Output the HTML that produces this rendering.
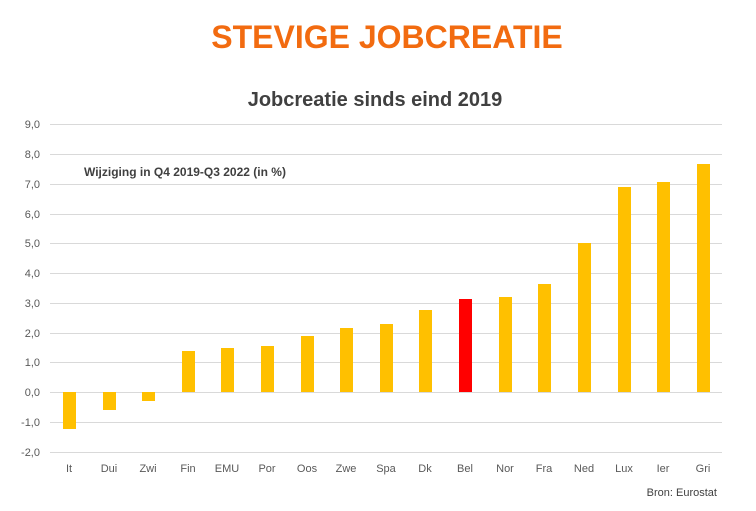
<!DOCTYPE html>
<html><head><meta charset="utf-8"><style>
body{margin:0;background:#fff;width:756px;height:506px;overflow:hidden;font-family:"Liberation Sans",sans-serif}
</style></head><body>
<svg width="756" height="506" xmlns="http://www.w3.org/2000/svg" font-family="Liberation Sans, sans-serif">
<text x="387" y="48" text-anchor="middle" font-size="32" font-weight="bold" fill="#f26b10">STEVIGE JOBCREATIE</text>
<text x="375" y="106" text-anchor="middle" font-size="20" font-weight="bold" fill="#404040">Jobcreatie sinds eind 2019</text>
<g stroke="#d9d9d9" stroke-width="1">
<line x1="50" x2="722" y1="124.5" y2="124.5"/><line x1="50" x2="722" y1="154.5" y2="154.5"/>
<line x1="50" x2="722" y1="184.5" y2="184.5"/><line x1="50" x2="722" y1="214.5" y2="214.5"/>
<line x1="50" x2="722" y1="243.5" y2="243.5"/><line x1="50" x2="722" y1="273.5" y2="273.5"/>
<line x1="50" x2="722" y1="303.5" y2="303.5"/><line x1="50" x2="722" y1="333.5" y2="333.5"/>
<line x1="50" x2="722" y1="362.5" y2="362.5"/><line x1="50" x2="722" y1="392.5" y2="392.5"/>
<line x1="50" x2="722" y1="422.5" y2="422.5"/><line x1="50" x2="722" y1="452.5" y2="452.5"/>
</g>
<g font-size="11" fill="#595959" text-anchor="end">
<text x="40" y="128">9,0</text><text x="40" y="158">8,0</text><text x="40" y="188">7,0</text>
<text x="40" y="218">6,0</text><text x="40" y="247">5,0</text><text x="40" y="277">4,0</text>
<text x="40" y="307">3,0</text><text x="40" y="337">2,0</text><text x="40" y="366">1,0</text>
<text x="40" y="396">0,0</text><text x="40" y="426">-1,0</text><text x="40" y="456">-2,0</text>
</g>
<text x="84" y="176" font-size="12" font-weight="bold" fill="#404040">Wijziging in Q4 2019-Q3 2022 (in %)</text>
<g fill="#ffc000">
<rect x="63" y="392" width="13" height="37"/>
<rect x="103" y="392" width="13" height="18"/>
<rect x="142" y="392" width="13" height="9"/>
<rect x="182" y="351" width="13" height="41"/>
<rect x="221" y="348" width="13" height="44"/>
<rect x="261" y="346" width="13" height="46"/>
<rect x="301" y="336" width="13" height="56"/>
<rect x="340" y="328" width="13" height="64"/>
<rect x="380" y="324" width="13" height="68"/>
<rect x="419" y="310" width="13" height="82"/>
<rect x="499" y="297" width="13" height="95"/>
<rect x="538" y="284" width="13" height="108"/>
<rect x="578" y="243" width="13" height="149"/>
<rect x="618" y="187" width="13" height="205"/>
<rect x="657" y="182" width="13" height="210"/>
<rect x="697" y="164" width="13" height="228"/>
</g>
<rect x="459" y="299" width="13" height="93" fill="#ff0000"/>
<g font-size="11" fill="#595959" text-anchor="middle">
<text x="69" y="472">It</text><text x="109" y="472">Dui</text><text x="148" y="472">Zwi</text>
<text x="188" y="472">Fin</text><text x="227" y="472">EMU</text><text x="267" y="472">Por</text>
<text x="307" y="472">Oos</text><text x="346" y="472">Zwe</text><text x="386" y="472">Spa</text>
<text x="425" y="472">Dk</text><text x="465" y="472">Bel</text><text x="505" y="472">Nor</text>
<text x="544" y="472">Fra</text><text x="584" y="472">Ned</text><text x="624" y="472">Lux</text>
<text x="663" y="472">Ier</text><text x="703" y="472">Gri</text>
</g>
<text x="717" y="496" font-size="11" fill="#404040" text-anchor="end">Bron: Eurostat</text>
</svg>
</body></html>
